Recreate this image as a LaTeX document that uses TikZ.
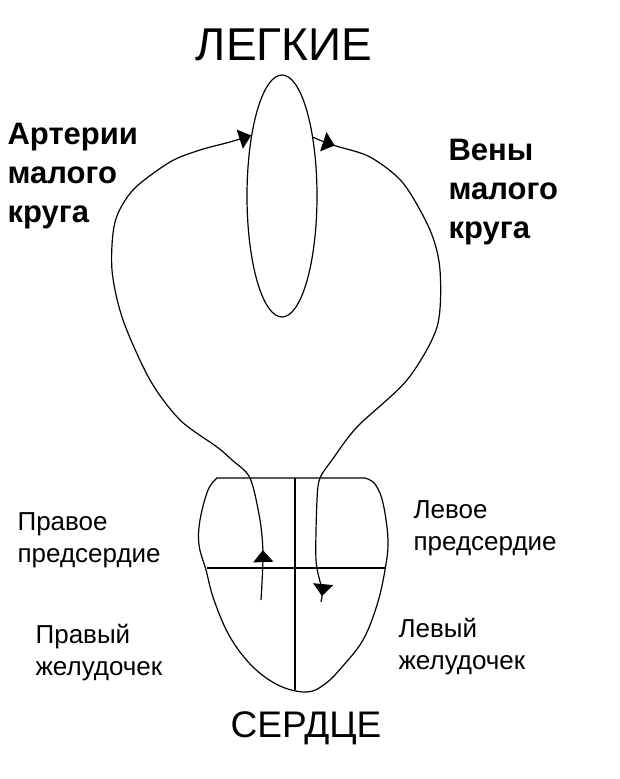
\documentclass[tikz,border=0pt]{standalone}
\usepackage{fontspec}
\setmainfont{Liberation Sans}
\usetikzlibrary{shapes.geometric, arrows.meta, decorations.markings}

\begin{document}
\begin{tikzpicture}[x=1pt, y=-1pt, line width=1.2pt, organ/.style={inner sep=0pt}, circ/.style={font=\bfseries\fontsize{31}{39}\selectfont, align=left, anchor=north west, inner sep=0pt}, part/.style={font=\fontsize{26}{32}\selectfont, align=left, anchor=north west, inner sep=0pt}, lung/.style={draw, ellipse, minimum width=70pt, minimum height=242pt, inner sep=0pt}, v/.style={-{Triangle[length=12pt, width=20pt]}}, mid/.style={postaction={decorate, decoration={markings, mark=at position #1 with {\arrow{Triangle[length=12pt, width=20pt]}}}}}]
            \useasboundingbox (0,0) rectangle (620,779);
            % nodes
            \node[lung] (lung) at (282,196) {};
            \node[organ, font=\fontsize{46}{54}\selectfont] (lungs) at (284,45) {ЛЕГКИЕ};
            \node[organ, font=\fontsize{37}{44}\selectfont, anchor=base] (heart) at (306,737) {СЕРДЦЕ};
            \node[circ] (art) at (7,123) {Артерии\\малого\\круга};
            \node[circ] (vein) at (448,139) {Вены\\малого\\круга};
            \node[part] (ra) at (17,512) {Правое\\предсердие};
            \node[part] (la) at (413,500) {Левое\\предсердие};
            \node[part] (rv) at (35,624) {Правый\\желудочек};
            \node[part] (lv) at (398,618) {Левый\\желудочек};
            \coordinate (artstart) at (261,600);
            \coordinate (veinend) at (321,602);
            % heart
            \draw plot[smooth, tension=0.6] coordinates {(217,478) (208,490) (200,520) (199,545) (206,570) (214,600) (230,637) (253,667) (280,686) (307,692) (325,684) (342,667) (363,640) (377,605) (385,570) (388,540) (383,503) (375,484) (365,478)} -- cycle;
            \draw (295,478) -- (295,690);
            \draw (207,568) -- (386,568);
            % edges
            \draw [v, mid=50pt] plot[smooth] coordinates {(artstart) (263,555) (260,520) (250,478) (232,460) (217,447) (180,420) (150,380) (123,320) (112,270) (115,222) (133,190) (170,162) (200,150) (230,142) (lung.117)};
            \draw [mid=23pt, mid=-6pt] plot[smooth] coordinates {(lung.62) (322,141) (336,146) (370,157) (403,183) (430,230) (440,270) (437,327) (407,380) (357,427) (332,460) (320,478) (317,500) (316,560) (322,590) (veinend)};
        \end{tikzpicture}
\end{document}
